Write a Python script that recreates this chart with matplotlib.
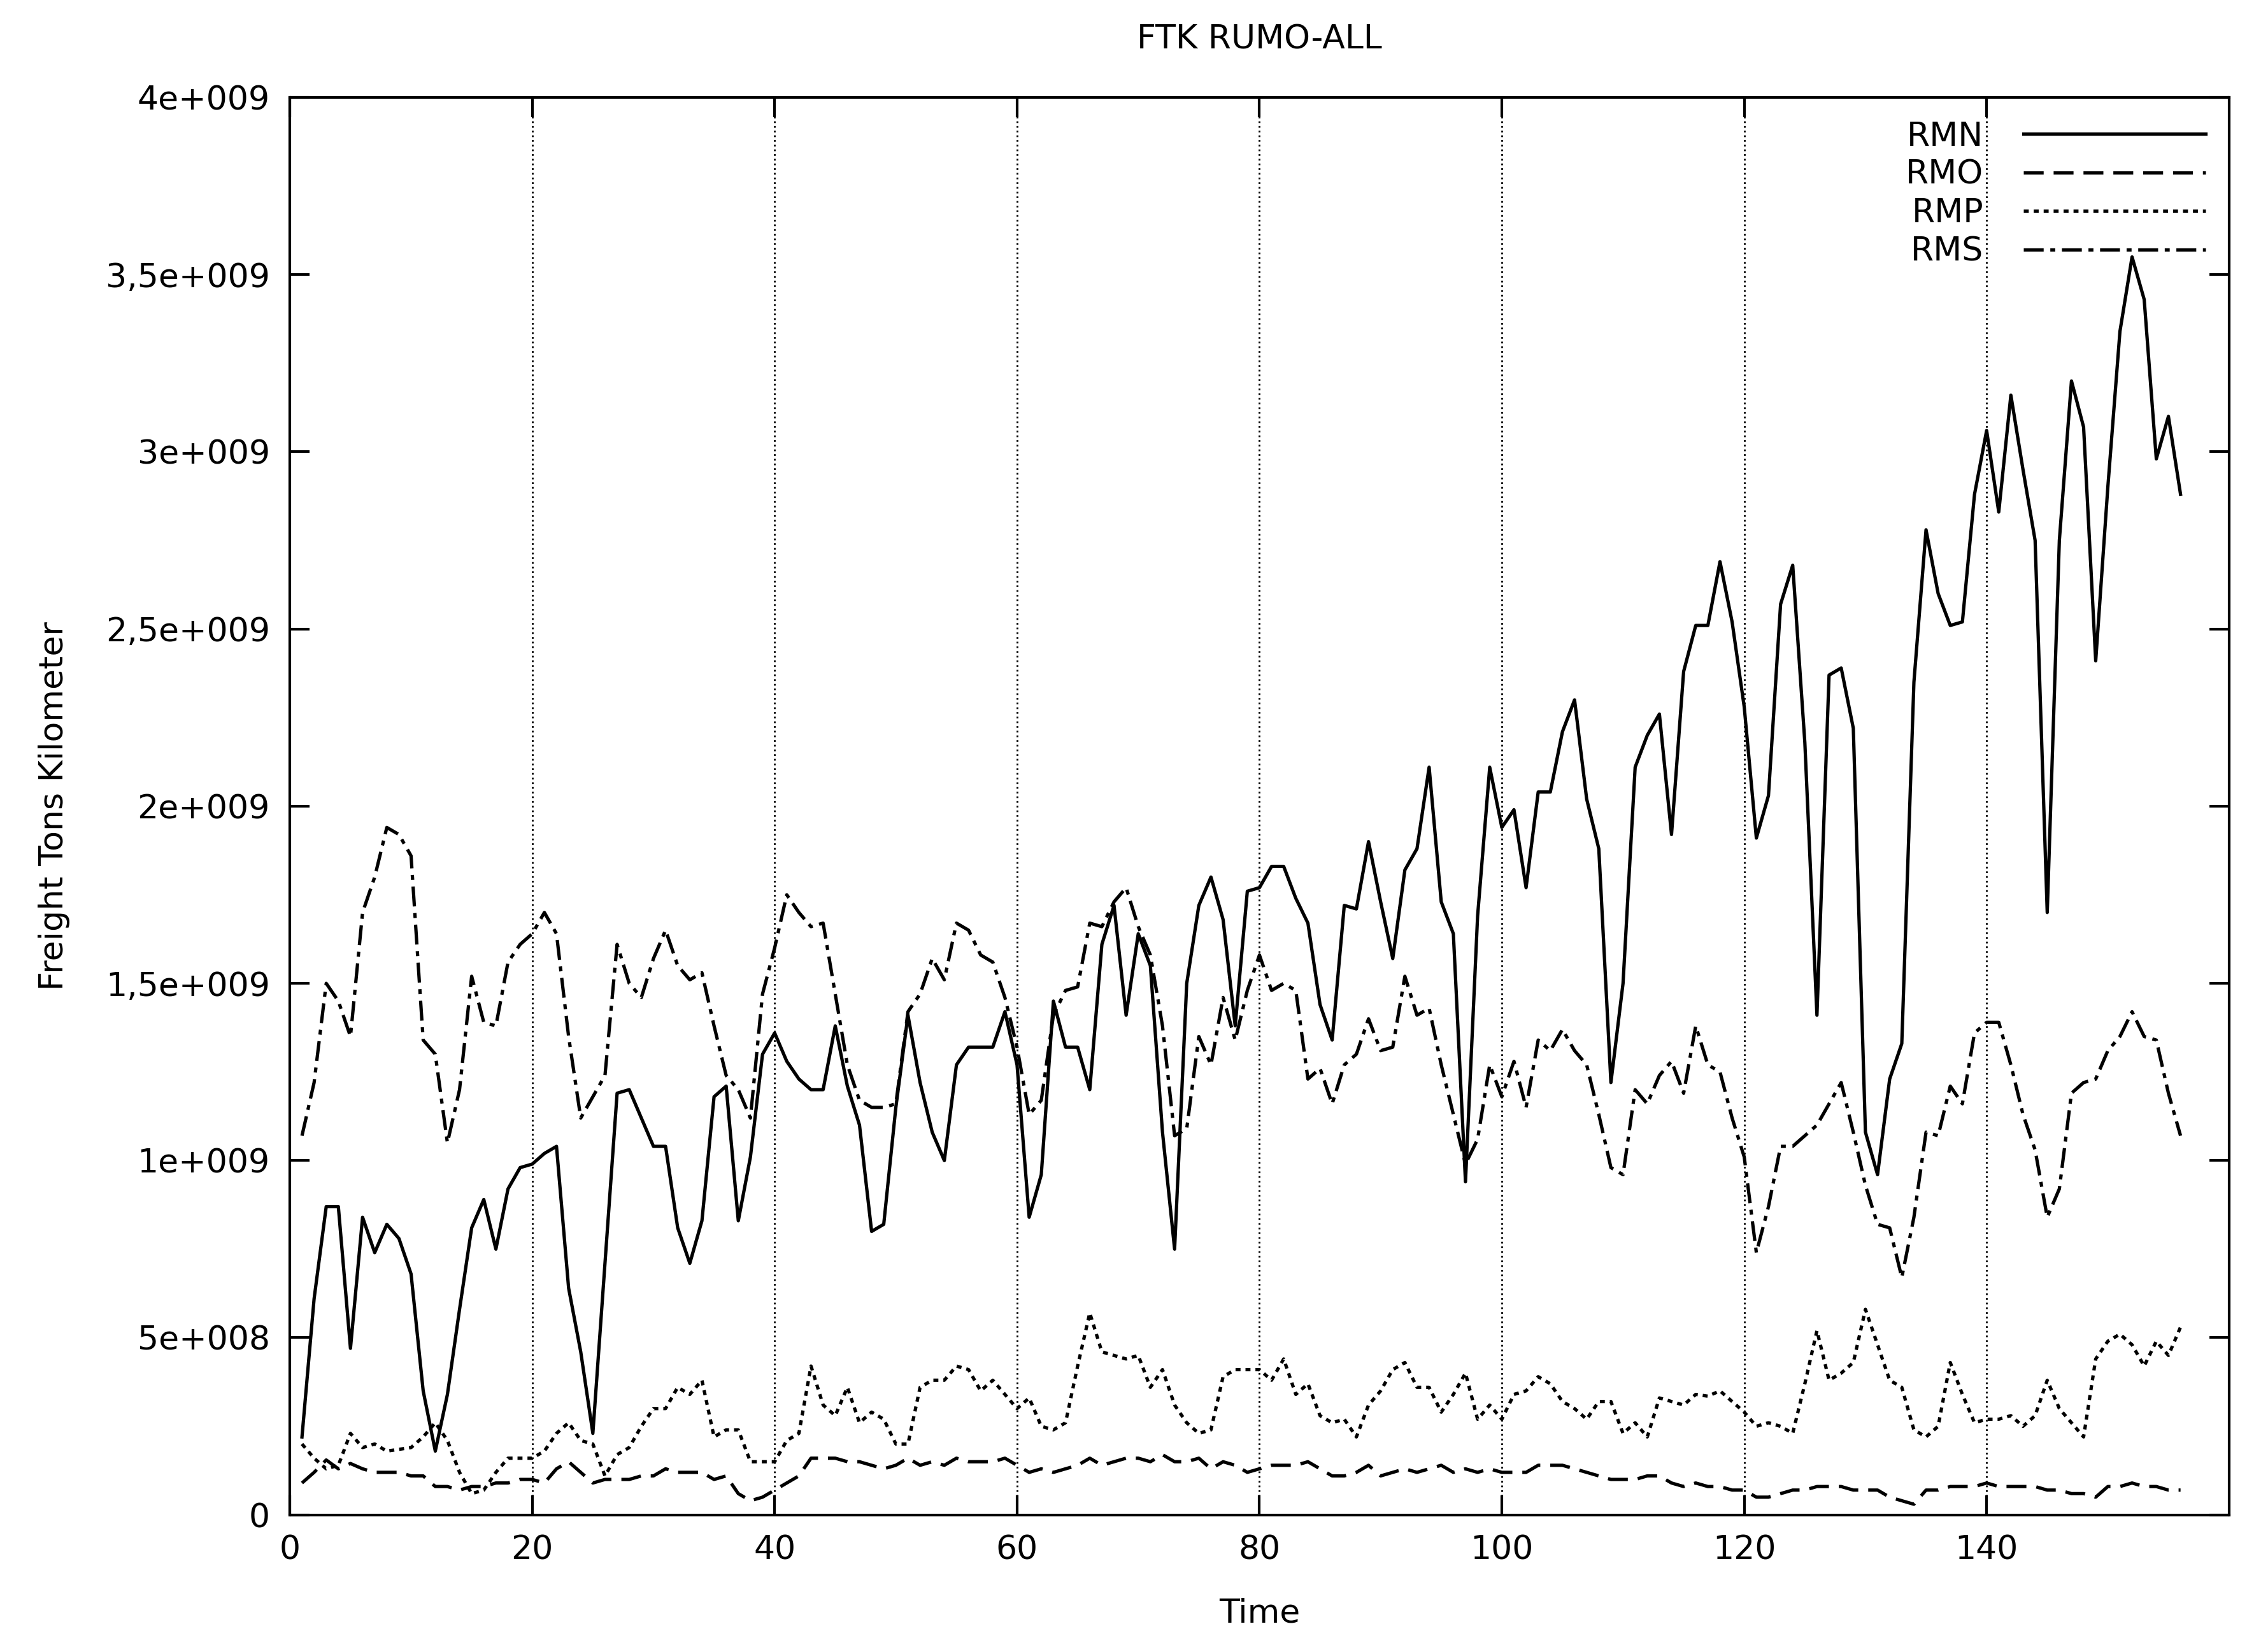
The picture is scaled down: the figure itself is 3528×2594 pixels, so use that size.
import numpy as np
import matplotlib.pyplot as plt
from matplotlib.ticker import FuncFormatter, MultipleLocator, FixedLocator

# Datos (x = 1..156)
t = np.arange(1, 157)

rmn = [2.2e8, 6.1e8, 8.7e8, 8.7e8, 4.7e8, 8.4e8, 7.4e8, 8.2e8, 7.8e8, 6.8e8,
       3.5e8, 1.8e8, 3.4e8, 5.8e8, 8.1e8, 8.9e8, 7.5e8, 9.2e8, 9.8e8, 9.9e8,
       1.02e9, 1.04e9, 6.4e8, 4.6e8, 2.3e8, 7.1e8, 1.19e9, 1.2e9, 1.12e9, 1.04e9,
       1.04e9, 8.1e8, 7.1e8, 8.3e8, 1.18e9, 1.21e9, 8.3e8, 1.01e9, 1.3e9, 1.36e9,
       1.28e9, 1.23e9, 1.2e9, 1.2e9, 1.38e9, 1.21e9, 1.1e9, 8.0e8, 8.2e8, 1.15e9,
       1.41e9, 1.22e9, 1.08e9, 1.0e9, 1.27e9, 1.32e9, 1.32e9, 1.32e9, 1.42e9, 1.27e9,
       8.4e8, 9.6e8, 1.45e9, 1.32e9, 1.32e9, 1.2e9, 1.61e9, 1.72e9, 1.41e9, 1.64e9,
       1.55e9, 1.08e9, 7.5e8, 1.5e9, 1.72e9, 1.8e9, 1.68e9, 1.38e9, 1.76e9, 1.77e9,
       1.83e9, 1.83e9, 1.74e9, 1.67e9, 1.44e9, 1.34e9, 1.72e9, 1.71e9, 1.9e9, 1.73e9,
       1.57e9, 1.82e9, 1.88e9, 2.11e9, 1.73e9, 1.64e9, 9.4e8, 1.69e9, 2.11e9, 1.94e9,
       1.99e9, 1.77e9, 2.04e9, 2.04e9, 2.21e9, 2.3e9, 2.02e9, 1.88e9, 1.22e9, 1.5e9,
       2.11e9, 2.2e9, 2.26e9, 1.92e9, 2.38e9, 2.51e9, 2.51e9, 2.69e9, 2.52e9, 2.28e9,
       1.91e9, 2.03e9, 2.57e9, 2.68e9, 2.18e9, 1.41e9, 2.37e9, 2.39e9, 2.22e9, 1.08e9,
       9.6e8, 1.23e9, 1.33e9, 2.35e9, 2.78e9, 2.6e9, 2.51e9, 2.52e9, 2.88e9, 3.06e9,
       2.83e9, 3.16e9, 2.95e9, 2.75e9, 1.7e9, 2.75e9, 3.2e9, 3.07e9, 2.41e9, 2.9e9,
       3.34e9, 3.55e9, 3.43e9, 2.98e9, 3.1e9, 2.88e9]

rmo = [9e7, 1.2e8, 1.55e8, 1.3e8, 1.45e8, 1.3e8, 1.2e8, 1.2e8, 1.2e8, 1.1e8,
       1.1e8, 8e7, 8e7, 7e7, 8e7, 8e7, 9e7, 9e7, 1.0e8, 1.0e8,
       9e7, 1.3e8, 1.5e8, 1.2e8, 9e7, 1.0e8, 1.0e8, 1.0e8, 1.1e8, 1.1e8,
       1.3e8, 1.2e8, 1.2e8, 1.2e8, 1.0e8, 1.1e8, 6e7, 4e7, 5e7, 7e7,
       9e7, 1.1e8, 1.6e8, 1.6e8, 1.6e8, 1.5e8, 1.5e8, 1.4e8, 1.3e8, 1.4e8,
       1.6e8, 1.4e8, 1.5e8, 1.4e8, 1.6e8, 1.5e8, 1.5e8, 1.5e8, 1.6e8, 1.4e8,
       1.2e8, 1.3e8, 1.2e8, 1.3e8, 1.4e8, 1.6e8, 1.4e8, 1.5e8, 1.6e8, 1.6e8,
       1.5e8, 1.7e8, 1.5e8, 1.5e8, 1.6e8, 1.3e8, 1.5e8, 1.4e8, 1.2e8, 1.3e8,
       1.4e8, 1.4e8, 1.4e8, 1.5e8, 1.3e8, 1.1e8, 1.1e8, 1.2e8, 1.4e8, 1.1e8,
       1.2e8, 1.3e8, 1.2e8, 1.3e8, 1.4e8, 1.2e8, 1.3e8, 1.2e8, 1.3e8, 1.2e8,
       1.2e8, 1.2e8, 1.4e8, 1.4e8, 1.4e8, 1.3e8, 1.2e8, 1.1e8, 1.0e8, 1.0e8,
       1.0e8, 1.1e8, 1.1e8, 9e7, 8e7, 9e7, 8e7, 8e7, 7e7, 7e7,
       5e7, 5e7, 6e7, 7e7, 7e7, 8e7, 8e7, 8e7, 7e7, 7e7,
       7e7, 5e7, 4e7, 3e7, 7e7, 7e7, 8e7, 8e7, 8e7, 9e7,
       8e7, 8e7, 8e7, 8e7, 7e7, 7e7, 6e7, 6e7, 5e7, 8e7,
       8e7, 9e7, 8e7, 8e7, 7e7, 7e7]

rmp = [2.0e8, 1.6e8, 1.3e8, 1.4e8, 2.3e8, 1.9e8, 2.0e8, 1.8e8, 1.85e8, 1.9e8,
       2.2e8, 2.6e8, 2.1e8, 1.2e8, 6e7, 7e7, 1.2e8, 1.6e8, 1.6e8, 1.6e8,
       1.8e8, 2.3e8, 2.6e8, 2.1e8, 2.0e8, 1.1e8, 1.7e8, 1.9e8, 2.5e8, 3.0e8,
       3.0e8, 3.6e8, 3.4e8, 3.8e8, 2.2e8, 2.4e8, 2.4e8, 1.5e8, 1.5e8, 1.5e8,
       2.1e8, 2.3e8, 4.2e8, 3.1e8, 2.8e8, 3.6e8, 2.6e8, 2.9e8, 2.7e8, 2.0e8,
       2.0e8, 3.6e8, 3.8e8, 3.8e8, 4.2e8, 4.1e8, 3.5e8, 3.8e8, 3.4e8, 3.0e8,
       3.3e8, 2.5e8, 2.4e8, 2.6e8, 4.2e8, 5.7e8, 4.6e8, 4.5e8, 4.4e8, 4.5e8,
       3.6e8, 4.1e8, 3.1e8, 2.6e8, 2.3e8, 2.4e8, 3.9e8, 4.1e8, 4.1e8, 4.1e8,
       3.8e8, 4.4e8, 3.4e8, 3.7e8, 2.8e8, 2.6e8, 2.7e8, 2.2e8, 3.1e8, 3.5e8,
       4.1e8, 4.3e8, 3.6e8, 3.6e8, 2.9e8, 3.4e8, 4.0e8, 2.7e8, 3.1e8, 2.7e8,
       3.4e8, 3.5e8, 3.9e8, 3.7e8, 3.2e8, 3.0e8, 2.7e8, 3.2e8, 3.2e8, 2.3e8,
       2.6e8, 2.2e8, 3.3e8, 3.2e8, 3.1e8, 3.4e8, 3.35e8, 3.5e8, 3.2e8, 2.9e8,
       2.5e8, 2.6e8, 2.5e8, 2.3e8, 3.7e8, 5.2e8, 3.8e8, 4.0e8, 4.3e8, 5.8e8,
       4.8e8, 3.8e8, 3.6e8, 2.4e8, 2.2e8, 2.5e8, 4.3e8, 3.4e8, 2.6e8, 2.7e8,
       2.7e8, 2.8e8, 2.5e8, 2.8e8, 3.8e8, 3.0e8, 2.6e8, 2.2e8, 4.4e8, 4.9e8,
       5.1e8, 4.8e8, 4.2e8, 4.9e8, 4.5e8, 5.3e8]

rms = [1.07e9, 1.22e9, 1.5e9, 1.45e9, 1.35e9, 1.7e9, 1.8e9, 1.94e9, 1.92e9, 1.86e9,
       1.34e9, 1.3e9, 1.05e9, 1.2e9, 1.52e9, 1.39e9, 1.38e9, 1.56e9, 1.61e9, 1.64e9,
       1.7e9, 1.64e9, 1.35e9, 1.12e9, 1.18e9, 1.24e9, 1.61e9, 1.5e9, 1.46e9, 1.57e9,
       1.65e9, 1.55e9, 1.51e9, 1.53e9, 1.38e9, 1.24e9, 1.2e9, 1.12e9, 1.47e9, 1.6e9,
       1.75e9, 1.7e9, 1.66e9, 1.67e9, 1.47e9, 1.27e9, 1.17e9, 1.15e9, 1.15e9, 1.16e9,
       1.42e9, 1.47e9, 1.57e9, 1.51e9, 1.67e9, 1.65e9, 1.58e9, 1.56e9, 1.46e9, 1.32e9,
       1.13e9, 1.17e9, 1.41e9, 1.48e9, 1.49e9, 1.67e9, 1.66e9, 1.73e9, 1.77e9, 1.66e9,
       1.58e9, 1.38e9, 1.07e9, 1.09e9, 1.35e9, 1.27e9, 1.46e9, 1.34e9, 1.48e9, 1.58e9,
       1.48e9, 1.5e9, 1.48e9, 1.23e9, 1.26e9, 1.16e9, 1.27e9, 1.3e9, 1.4e9, 1.31e9,
       1.32e9, 1.52e9, 1.41e9, 1.43e9, 1.27e9, 1.13e9, 9.9e8, 1.06e9, 1.27e9, 1.18e9,
       1.28e9, 1.15e9, 1.34e9, 1.31e9, 1.37e9, 1.31e9, 1.27e9, 1.13e9, 9.8e8, 9.6e8,
       1.2e9, 1.16e9, 1.24e9, 1.28e9, 1.19e9, 1.38e9, 1.27e9, 1.25e9, 1.12e9, 1.01e9,
       7.4e8, 8.7e8, 1.04e9, 1.04e9, 1.07e9, 1.1e9, 1.16e9, 1.22e9, 1.08e9, 9.3e8,
       8.2e8, 8.1e8, 6.7e8, 8.4e8, 1.08e9, 1.07e9, 1.21e9, 1.16e9, 1.36e9, 1.39e9,
       1.39e9, 1.27e9, 1.13e9, 1.03e9, 8.4e8, 9.2e8, 1.19e9, 1.22e9, 1.23e9, 1.31e9,
       1.35e9, 1.42e9, 1.35e9, 1.34e9, 1.19e9, 1.07e9]

x_ticks = [0, 20, 40, 60, 80, 100, 120, 140]

# ------------------------
# Grafico
# ------------------------

plt.rcParams['font.family'] = ['DejaVu Sans']
fig = plt.figure(figsize=(14.112, 10.376), dpi=250)
ax = fig.add_axes([0.129, 0.083, 0.863, 0.858])

lw = 1.5
ax.plot(t, rmn, color='black', lw=lw, ls='-', label='RMN')
ax.plot(t, rmo, color='black', lw=lw, ls=(0, (6, 3)), label='RMO')
ax.plot(t, rmp, color='black', lw=lw, ls=(0, (1.5, 1.5)), label='RMP')
ax.plot(t, rms, color='black', lw=lw, ls=(0, (6, 2, 1.5, 2)), label='RMS')

ax.set_xlim(0, 160)
ax.set_ylim(0, 4e9)
ax.xaxis.set_major_locator(FixedLocator(x_ticks))
ax.yaxis.set_major_locator(MultipleLocator(5e8))

def fmt(v, pos):
    if v == 0:
        return '0'
    m, e = f'{v:.1e}'.split('e')
    m = m.rstrip('0').rstrip('.').replace('.', ',')
    return f'{m}e+{int(e):03d}'

ax.yaxis.set_major_formatter(FuncFormatter(fmt))
ax.tick_params(direction='in', top=True, right=True, length=9, width=1.2, labelsize=15, pad=9)
ax.grid(axis='x', color='black', ls=':', lw=0.8)
for s in ax.spines.values():
    s.set_linewidth(1.2)

ax.set_title('FTK RUMO-ALL', fontsize=15, pad=22)
ax.set_xlabel('Time', fontsize=15, labelpad=14)
ax.set_ylabel('Freight Tons Kilometer', fontsize=15, labelpad=16)

ax.legend(loc='upper right', frameon=False, markerfirst=False, fontsize=15,
          handlelength=5.5, labelspacing=0.2, borderaxespad=0.3, handletextpad=1.2)

fig.savefig('out.png', dpi=250)
